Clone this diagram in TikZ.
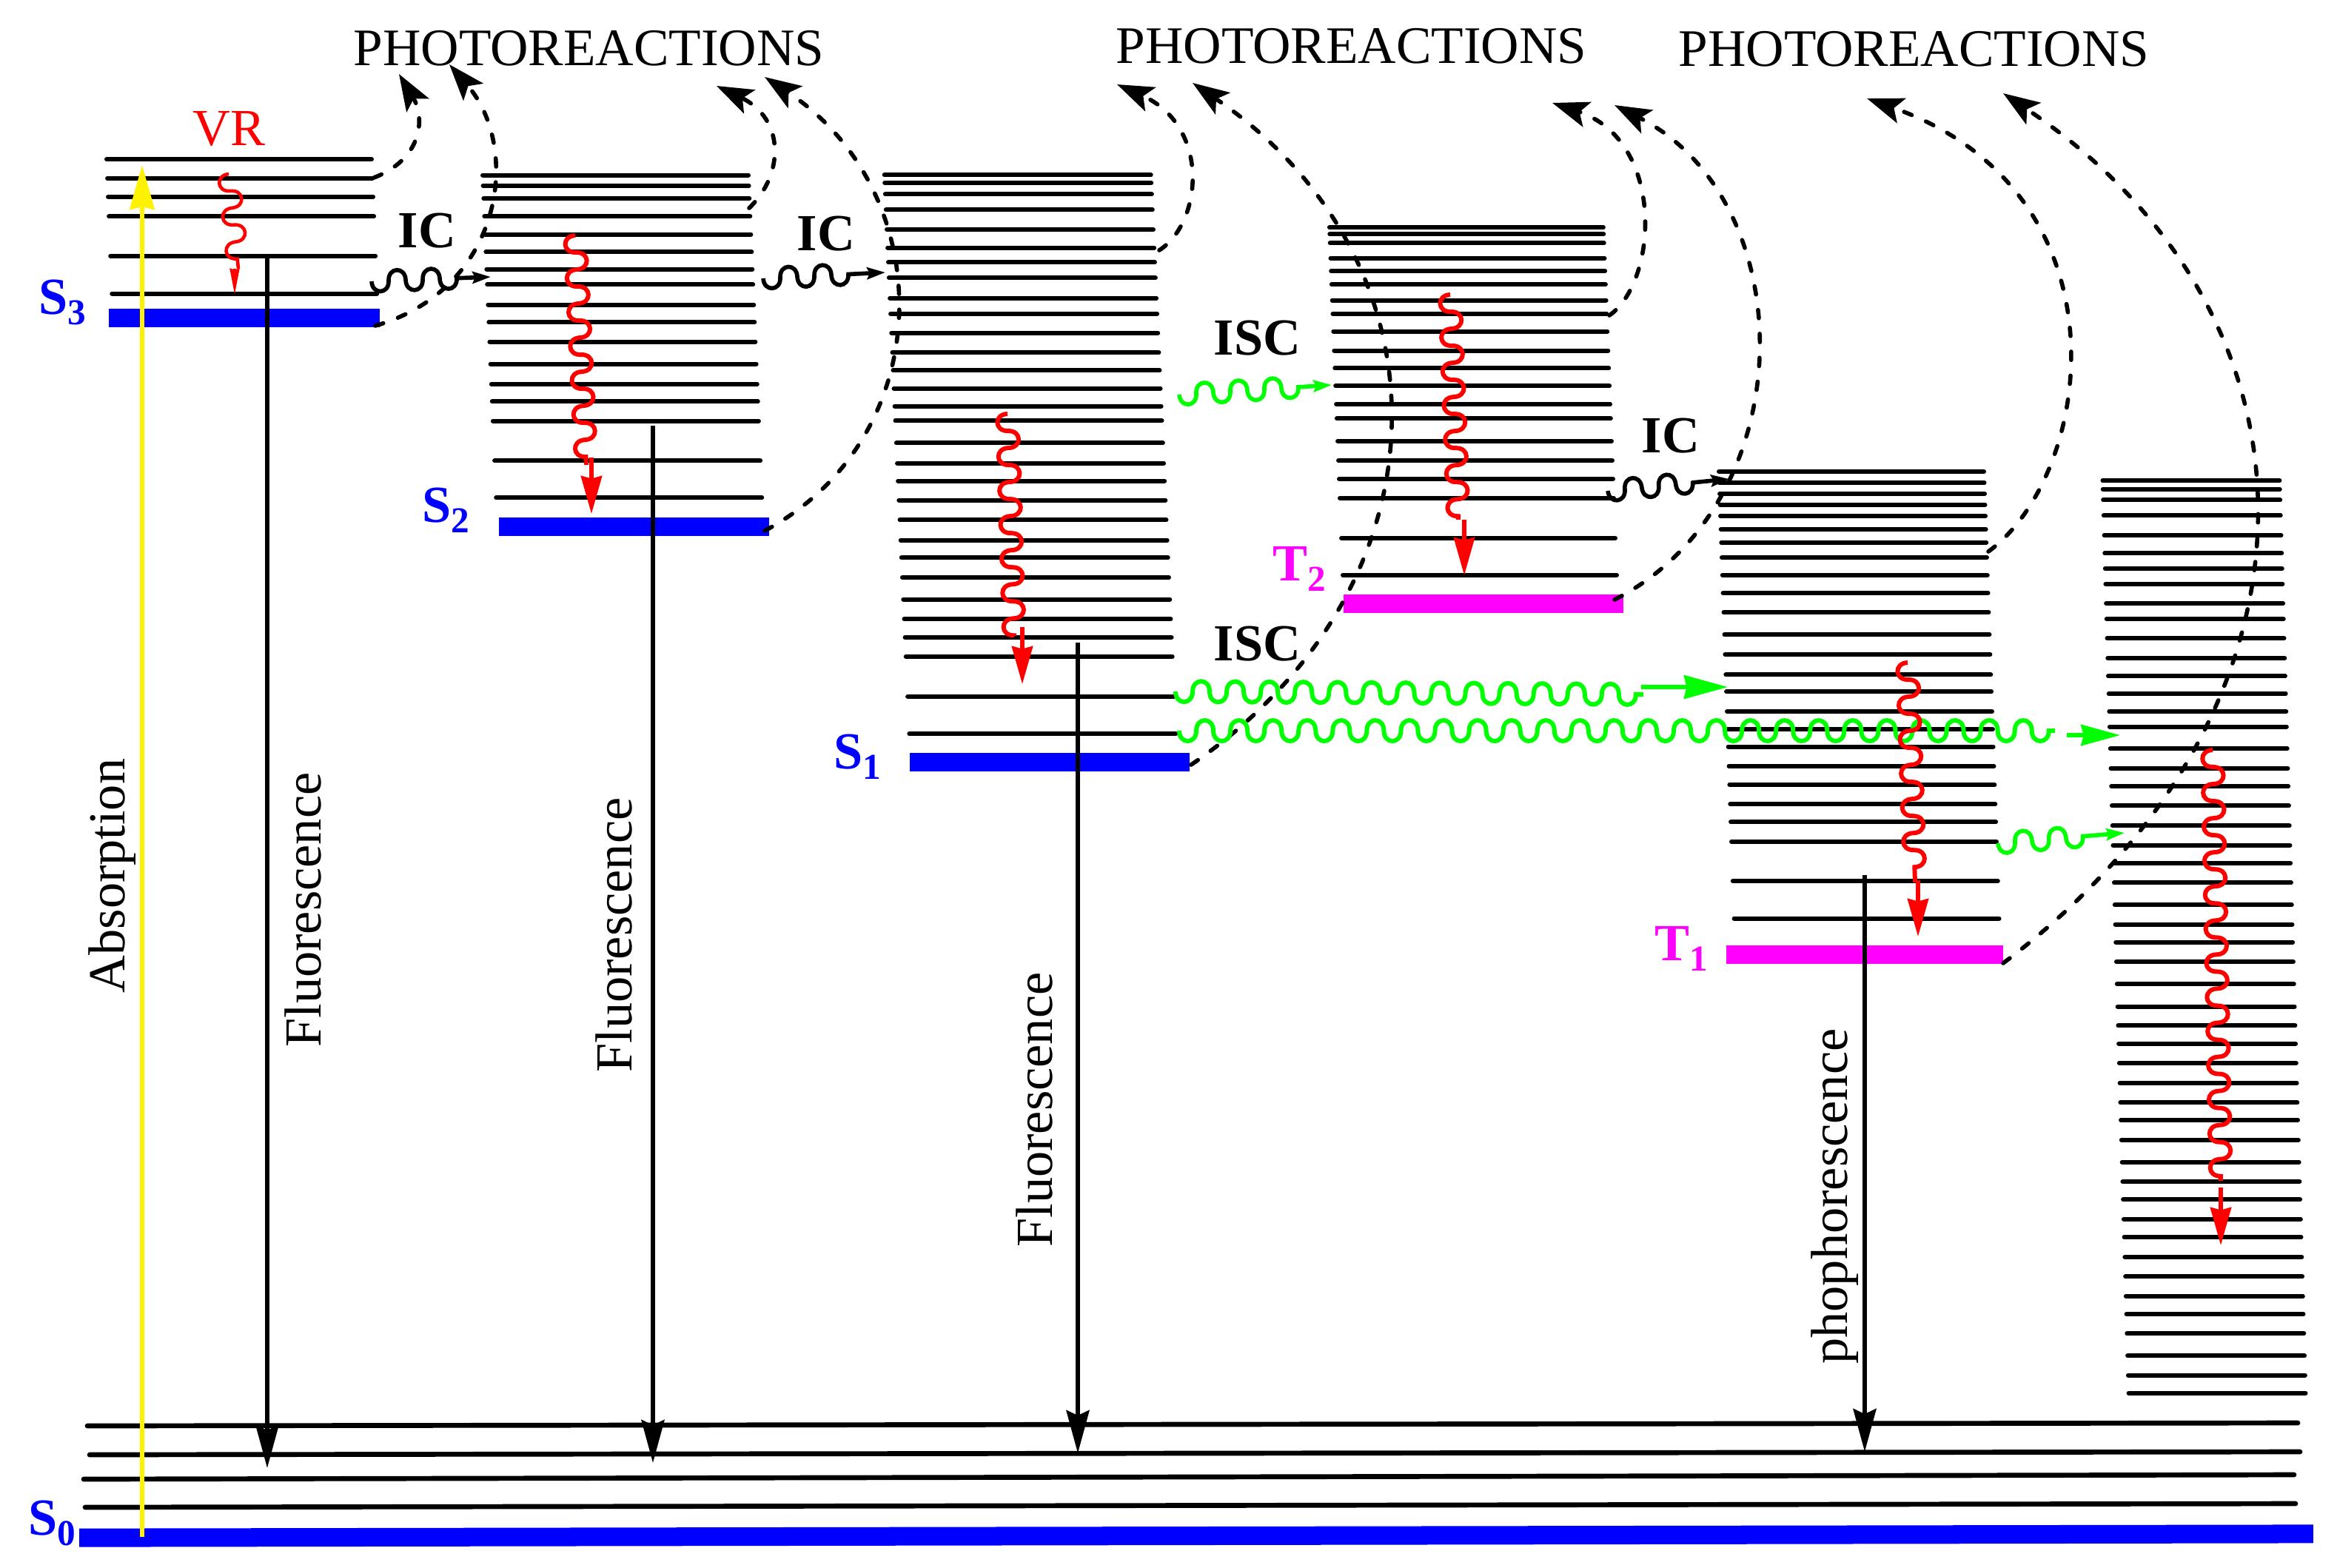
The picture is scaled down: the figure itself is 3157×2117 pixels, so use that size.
\documentclass[tikz,border=0pt]{standalone}
\usepackage{fontspec}
\setmainfont{Liberation Serif}
\usepackage{tikz}
\usetikzlibrary{arrows.meta, decorations}
\definecolor{puremagenta}{rgb}{1,0,1}
\pgfdeclaredecoration{wiggle}{down}{
\state{down}[switch if less than=6.55pt to final, width=6.55pt, next state=up]{
\pgfpathcurveto{\pgfpoint{0pt}{-\pgfdecorationsegmentamplitude}}{\pgfpoint{6.55pt}{-\pgfdecorationsegmentamplitude}}{\pgfpoint{6.55pt}{0pt}}
}
\state{up}[switch if less than=6.55pt to final, width=6.55pt, next state=down]{
\pgfpathcurveto{\pgfpoint{0pt}{\pgfdecorationsegmentamplitude}}{\pgfpoint{6.55pt}{\pgfdecorationsegmentamplitude}}{\pgfpoint{6.55pt}{0pt}}
}
\state{final}{\pgfpathlineto{\pgfpointdecoratedpathlast}}
}
\tikzstyle{level} = [line width=1.7pt, line cap=round]
\tikzstyle{ground} = [line width=1.9pt, line cap=round]
\tikzstyle{bar} = [rectangle, inner sep=0pt, minimum height=0.25cm]
\tikzstyle{arrow} = [line width=1.7pt, -{Stealth[length=16.5pt, width=8.8pt, inset=2pt]}]
\tikzstyle{absorb} = [yellow, line width=1.9pt, -{Stealth[length=17pt, width=9.4pt, inset=1pt]}]
\tikzstyle{path} = [line width=1.6pt, line cap=round, dash pattern=on 3.2pt off 6pt, -{Stealth[length=14pt, width=10pt, inset=3pt]}]
\tikzstyle{wave} = [line width=1.7pt, decorate, decoration={wiggle, amplitude=5.3pt}]
\tikzstyle{bigtip} = [line width=1.5pt, -{Stealth[length=14.5pt, width=8pt, inset=1pt]}]
\tikzstyle{smalltip} = [wave, line width=1.6pt, -{Stealth[length=7pt, width=4.5pt, inset=1pt]}, decoration={post length=9pt}]
\tikzstyle{label} = [inner sep=0pt, font=\fontsize{20}{24}\selectfont]
\tikzstyle{boldlabel} = [label, anchor=base west, font=\fontsize{20}{24}\selectfont\bfseries]
\tikzstyle{title} = [label, anchor=base west, font=\fontsize{20.25}{24}\selectfont]
\tikzstyle{side} = [label, rotate=90, anchor=base]
\newcommand{\levels}[5]{\foreach \y in {#5} \draw [level] ({#1+(\y-#2)*#3},\y) -- ++(#4,0);}
\newcommand{\statelab}[2]{\bfseries #1\raisebox{-4pt}{\fontsize{14}{14}\selectfont #2}}
\begin{document}
\begin{tikzpicture}[x=0.01cm, y=-0.01cm]
\useasboundingbox (0,0) rectangle (3157,2117);

\levels{144}{215}{0.04}{358}{215.2,240.9,265.6,292.3,345.6,396.5}
\levels{652}{236.5}{0.0418}{359}{236.5,250.6,268,292.3,316.5,340.3,363.5,384.4,411.5,435.3,461.5,491.5,518.7,542.4,568.6,622.4,672.3}
\levels{1194.7}{236.4}{0.0446}{360}{236.4,246.9,262.4,283.4,310,334.6,354.3,375.3,402.7,423.7,449.7,476.3,500.2,524.7,548.6,568.2,598.4,625.7,649.6,675.5,702.2,729.6,753.4,780,809.5,836.2,860.8,886.7,940.7,991.2}
\levels{1795.9}{307.3}{0.0385}{370}{307.3,316.4,328.3,348.6,366.2,384.4,405.5,423.7,447.6,473.5,497.4,521.2,545.8,565.4,595.6,622.2,646.8,672.7,726.8,776.6}
\levels{2322}{637}{0.034}{358}{637.1,652.4,667.1,681.8,697,714.9,732.8,753.2,776.8,801,827.2,857.1,883.9,911.3,934.3,961.1,985.3,1008.5,1034.9,1059.8,1086.2,1110.4,1136.8,1190.2,1240.7}
\levels{2840.4}{649}{0.0285}{239}{649.2,660.7,675.4,696.4,723.2,747.4,767.9,788.9,815,836.1,862.2,889,913.3,936.9,961.1,981.5,1011.4,1037.7,1062,1088.3,1115.4,1141.7,1166,1192.3,1222.2,1248.6,1272.8,1299.1,1329.1,1359.7,1385.3,1409.5,1435.9,1463,1489.3,1512.8,1539.9,1569.8,1596.2,1620.4,1646.7,1671,1698,1724.4,1750.7,1775,1801.3,1831.2,1857.5,1881.8}
\draw [ground] (118,1926) -- (3104,1922);
\draw [ground] (121,1965) -- (3107,1961);
\draw [ground] (113,1998) -- (3099,1992);
\draw [ground] (115,2036) -- (3101,2031);

\node (s3bar) [bar, fill=blue, minimum width=3.66cm] at (330,429.5) {};
\node (s2bar) [bar, fill=blue, minimum width=3.65cm] at (856.5,711.5) {};
\node (s1bar) [bar, fill=blue, minimum width=3.78cm] at (1418,1029.5) {};
\node (t2bar) [bar, fill=puremagenta, minimum width=3.775cm] at (2004,815.5) {};
\node (t1bar) [bar, fill=puremagenta, minimum width=3.74cm] at (2519,1289) {};
\node (s0bar) [bar, fill=blue, minimum width=30.16cm, rotate=0.1] at (1616,2074.5) {};

\node (title1) [title] at (477,88) {PHOTOREACTIONS};
\node (title2) [title] at (1507,85) {PHOTOREACTIONS};
\node (title3) [title] at (2267,89) {PHOTOREACTIONS};
\node (vr) [label, anchor=base west, red] at (260,196) {VR};
\node (ic1) [boldlabel] at (537,334) {IC};
\node (ic2) [boldlabel] at (1076,338) {IC};
\node (ic3) [boldlabel] at (2217,611) {IC};
\node (isc1) [boldlabel] at (1639,479) {ISC};
\node (isc2) [boldlabel] at (1639,892) {ISC};
\node (s3lab) [label, anchor=base west, blue] at (52,424) {\statelab{S}{3}};
\node (s2lab) [label, anchor=base west, blue] at (570,705) {\statelab{S}{2}};
\node (s1lab) [label, anchor=base west, blue] at (1126,1038) {\statelab{S}{1}};
\node (s0lab) [label, anchor=base west, blue] at (38,2073) {\statelab{S}{0}};
\node (t2lab) [label, anchor=base west, puremagenta] at (1719,784) {\statelab{T}{2}};
\node (t1lab) [label, anchor=base west, puremagenta] at (2235,1297) {\statelab{T}{1}};
\node (absorption) [side] at (168,1183) {Absorption};
\node (fluor1) [side] at (433,1229) {Fluorescence};
\node (fluor2) [side] at (853,1263) {Fluorescence};
\node (fluor3) [side] at (1421,1499) {Fluorescence};
\node (phos) [side] at (2495,1616) {phophorescence};

\coordinate (a1) at (505,240);
\coordinate (a1t) at (539,100);
\coordinate (b1) at (507,440);
\coordinate (b1t) at (607,87);
\coordinate (a2) at (1012,281);
\coordinate (a2t) at (968,116);
\coordinate (b2) at (1033,717);
\coordinate (b2t) at (1033,104);
\coordinate (a3) at (1566,338);
\coordinate (a3t) at (1509,114);
\coordinate (b3) at (1609,1033);
\coordinate (b3t) at (1611,112);
\coordinate (a4) at (2174,426);
\coordinate (a4t) at (2097,139);
\coordinate (b4) at (2181,810);
\coordinate (b4t) at (2181,142);
\coordinate (a5) at (2686,745);
\coordinate (a5t) at (2522,133);
\coordinate (b5) at (2706,1301);
\coordinate (b5t) at (2706,126);
\draw [path] (a1) .. controls (570,215) and (575,160) .. (a1t);
\draw [path] (b1) .. controls (680,390) and (705,200) .. (b1t);
\draw [path] (a2) .. controls (1060,235) and (1060,160) .. (a2t);
\draw [path] (b2) .. controls (1270,590) and (1270,260) .. (b2t);
\draw [path] (a3) .. controls (1625,300) and (1635,170) .. (a3t);
\draw [path] (b3) .. controls (1965,790) and (1965,353) .. (b3t);
\draw [path] (a4) .. controls (2240,380) and (2250,190) .. (a4t);
\draw [path] (b4) .. controls (2437,680) and (2437,272) .. (b4t);
\draw [path] (a5) .. controls (2830,640) and (2880,260) .. (a5t);
\draw [path] (b5) .. controls (3160,960) and (3160,430) .. (b5t);

\coordinate (ic1a) at (502,380);
\coordinate (ic1b) at (663,374);
\coordinate (ic2a) at (1031,376);
\coordinate (ic2b) at (1196,368);
\coordinate (ic3a) at (2172,663);
\coordinate (ic3b) at (2336,647);
\draw [smalltip] (ic1a) -- (ic1b);
\draw [smalltip, decoration={post length=14pt}] (ic2a) -- (ic2b);
\draw [smalltip, decoration={post length=11.7pt}] (ic3a) -- (ic3b);

\coordinate (g1a) at (1593,533);
\coordinate (g1b) at (1799,520);
\coordinate (g2a) at (1588,934);
\coordinate (g2b) at (2220,938);
\coordinate (g2c) at (2217,928);
\coordinate (g2d) at (2334,928);
\coordinate (g3a) at (1593,987);
\coordinate (g3b) at (2776,987);
\coordinate (g3c) at (2792,993);
\coordinate (g3d) at (2864,993);
\coordinate (g4a) at (2699,1139);
\coordinate (g4b) at (2870,1125);
\draw [smalltip, green, decoration={post length=12pt}] (g1a) -- (g1b);
\draw [wave, green] (g2a) -- (g2b);
\draw [green, line width=1.5pt, -{Stealth[length=16.8pt, width=9pt, inset=1pt]}] (g2c) -- (g2d);
\draw [wave, green] (g3a) -- (g3b);
\draw [green, line width=1.5pt, -{Stealth[length=15pt, width=8pt, inset=1pt]}] (g3c) -- (g3d);
\draw [smalltip, green, decoration={post length=12pt}] (g4a) -- (g4b);

\coordinate (r1a) at (309,235);
\coordinate (r1b) at (322,363);
\coordinate (r1c) at (317,363);
\coordinate (r1d) at (317,398);
\coordinate (r2a) at (777,318);
\coordinate (r2b) at (792,628);
\coordinate (r2c) at (799,618);
\coordinate (r2d) at (799,694);
\coordinate (r3a) at (1361,559);
\coordinate (r3b) at (1370,859);
\coordinate (r3c) at (1381,847);
\coordinate (r3d) at (1381,924);
\coordinate (r4a) at (1959,398);
\coordinate (r4b) at (1970,702);
\coordinate (r4c) at (1978,702);
\coordinate (r4d) at (1978,777);
\coordinate (r5a) at (2577,895);
\coordinate (r5b) at (2587,1192);
\coordinate (r5c) at (2591,1189);
\coordinate (r5d) at (2591,1265);
\coordinate (r6a) at (2989,1013);
\coordinate (r6b) at (3000,1595);
\coordinate (r6c) at (3000,1604);
\coordinate (r6d) at (3000,1682);
\draw [wave, red, line width=1.3pt] (r1a) -- (r1b);
\draw [red, line width=1.1pt, -{Stealth[length=10pt, width=3.6pt, inset=0.5pt]}] (r1c) -- (r1d);
\draw [wave, red] (r2a) -- (r2b);
\draw [bigtip, red] (r2c) -- (r2d);
\draw [wave, red] (r3a) -- (r3b);
\draw [bigtip, red] (r3c) -- (r3d);
\draw [wave, red] (r4a) -- (r4b);
\draw [bigtip, red] (r4c) -- (r4d);
\draw [wave, red] (r5a) -- (r5b);
\draw [bigtip, red] (r5c) -- (r5d);
\draw [wave, red] (r6a) -- (r6b);
\draw [bigtip, red] (r6c) -- (r6d);

\coordinate (fl1) at (361,346);
\coordinate (fl1t) at (361,1983);
\coordinate (fl2) at (882,575);
\coordinate (fl2t) at (882,1976);
\coordinate (fl3) at (1456,868);
\coordinate (fl3t) at (1456,1963);
\coordinate (ph) at (2519,1182);
\coordinate (pht) at (2519,1961);
\coordinate (ab) at (192,2076);
\coordinate (abt) at (192,223);
\draw [arrow] (fl1) -- (fl1t);
\draw [arrow] (fl2) -- (fl2t);
\draw [arrow] (fl3) -- (fl3t);
\draw [arrow] (ph) -- (pht);
\draw [absorb] (ab) -- (abt);
\end{tikzpicture}
\end{document}
